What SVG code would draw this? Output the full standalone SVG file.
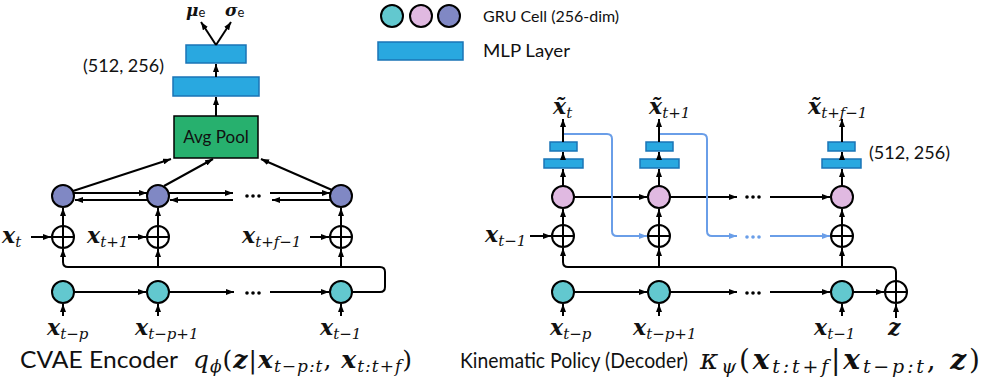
<svg xmlns="http://www.w3.org/2000/svg" width="989" height="388" viewBox="0 0 989 388">
<defs>
<marker id="ah" markerUnits="userSpaceOnUse" markerWidth="8" markerHeight="6" refX="8" refY="3" orient="auto"><path d="M0,0 L8,3 L0,6 z" fill="#000"/></marker>
<marker id="ahb" markerUnits="userSpaceOnUse" markerWidth="8" markerHeight="6" refX="8" refY="3" orient="auto"><path d="M0,0 L8,3 L0,6 z" fill="#6a9ee8"/></marker>
<style>
.c{stroke:#000;stroke-width:2;fill:none;marker-end:url(#ah)}
.n{stroke:#000;stroke-width:2;fill:none}
.bla{stroke:#6a9ee8;stroke-width:2;fill:none;marker-end:url(#ahb)}
.pu{fill:#8088c4;stroke:#000;stroke-width:2}
.pk{fill:#e0b9e1;stroke:#000;stroke-width:2}
.cy{fill:#62c8cf;stroke:#000;stroke-width:2}
.pl{fill:#fff;stroke:#000;stroke-width:2}
.mlp{fill:#29a8e0;stroke:#1a74b6;stroke-width:1.5}
.s{font-family:Lato,"Liberation Sans",sans-serif;fill:#111}
.m{font-family:"DejaVu Serif",serif;font-style:italic;fill:#111}
.b{font-weight:bold}
.u{font-style:normal}
.dt{fill:#000}
.dtb{fill:#6a9ee8}
</style>
</defs>

<!-- Legend -->
<g id="legend">
<circle class="cy" cx="392" cy="16" r="11"/>
<circle class="pk" cx="421" cy="16" r="11"/>
<circle class="pu" cx="449" cy="16" r="11"/>
<text class="s" x="483" y="22" font-size="16">GRU Cell (256-dim)</text>
<rect class="mlp" x="378" y="42" width="85" height="18"/>
<text class="s" x="483" y="57" font-size="17" textLength="87" lengthAdjust="spacingAndGlyphs">MLP Layer</text>
</g>

<!-- Encoder nodes -->
<g id="enc-mlp2"><rect class="mlp" x="186" y="45" width="60" height="18"/></g>
<g id="enc-mlp1"><rect class="mlp" x="173" y="77" width="86" height="19"/></g>
<g id="enc-pool"><rect x="174" y="116" width="84" height="42" fill="#27b06e" stroke="#000" stroke-width="1.5"/><text class="s" x="216" y="143" font-size="17" text-anchor="middle" fill="#1b2b22">Avg Pool</text></g>
<g id="enc-out"><text class="m b" x="186" y="16" font-size="17">μ<tspan class="s u" font-weight="normal" font-size="13" dy="1">e</tspan></text><text class="m b" x="225" y="16" font-size="17">σ<tspan class="s u" font-weight="normal" font-size="13" dy="1">e</tspan></text></g>
<g id="enc-dim"><text class="s" x="83" y="72" font-size="18">(512, 256)</text></g>

<g id="enc-h1"><circle class="pu" cx="63" cy="196" r="11"/></g>
<g id="enc-h2"><circle class="pu" cx="158" cy="196" r="11"/></g>
<g id="enc-h3"><circle class="pu" cx="341" cy="196" r="11"/></g>
<g id="enc-p1"><circle class="pl" cx="63" cy="237" r="11"/><path class="n" d="M52,237H74M63,226V248"/></g>
<g id="enc-p2"><circle class="pl" cx="158" cy="237" r="11"/><path class="n" d="M147,237H169M158,226V248"/></g>
<g id="enc-p3"><circle class="pl" cx="341" cy="237" r="11"/><path class="n" d="M330,237H352M341,226V248"/></g>
<g id="enc-c1"><circle class="cy" cx="63" cy="292" r="11"/></g>
<g id="enc-c2"><circle class="cy" cx="158" cy="292" r="11"/></g>
<g id="enc-c3"><circle class="cy" cx="341" cy="292" r="11"/></g>

<!-- Encoder labels -->
<g id="enc-labels">
<text class="m" x="2" y="243" font-size="22"><tspan class="b">x</tspan><tspan font-size="15" dy="4">t</tspan></text>
<text class="m" x="87" y="243" font-size="22"><tspan class="b">x</tspan><tspan font-size="15" dy="4">t+1</tspan></text>
<text class="m" x="242" y="243" font-size="22"><tspan class="b">x</tspan><tspan font-size="15" dy="4">t+f−1</tspan></text>
<text class="m" x="47" y="335" font-size="22"><tspan class="b">x</tspan><tspan font-size="15" dy="4">t−p</tspan></text>
<text class="m" x="135" y="335" font-size="22"><tspan class="b">x</tspan><tspan font-size="15" dy="4">t−p+1</tspan></text>
<text class="m" x="320" y="335" font-size="22"><tspan class="b">x</tspan><tspan font-size="15" dy="4">t−1</tspan></text>
</g>

<!-- Decoder nodes -->
<g id="dec-h1"><circle class="pk" cx="563" cy="197" r="11"/></g>
<g id="dec-h2"><circle class="pk" cx="659" cy="197" r="11"/></g>
<g id="dec-h3"><circle class="pk" cx="842" cy="197" r="11"/></g>
<g id="dec-p1"><circle class="pl" cx="563" cy="236" r="11"/><path class="n" d="M552,236H574M563,225V247"/></g>
<g id="dec-p2"><circle class="pl" cx="659" cy="236" r="11"/><path class="n" d="M648,236H670M659,225V247"/></g>
<g id="dec-p3"><circle class="pl" cx="842" cy="236" r="11"/><path class="n" d="M831,236H853M842,225V247"/></g>
<g id="dec-c1"><circle class="cy" cx="563" cy="292" r="11"/></g>
<g id="dec-c2"><circle class="cy" cx="659" cy="292" r="11"/></g>
<g id="dec-c3"><circle class="cy" cx="842" cy="292" r="11"/></g>
<g id="dec-pz"><circle class="pl" cx="896" cy="292" r="11"/><path class="n" d="M885,292H907M896,281V303"/></g>
<g id="dec-m1"><rect class="mlp" x="544" y="159" width="39" height="9"/><rect class="mlp" x="550" y="142" width="27" height="9"/></g>
<g id="dec-m2"><rect class="mlp" x="640" y="159" width="39" height="9"/><rect class="mlp" x="646" y="142" width="27" height="9"/></g>
<g id="dec-m3"><rect class="mlp" x="822" y="159" width="39" height="9"/><rect class="mlp" x="828" y="142" width="27" height="9"/></g>
<g id="dec-dim"><text class="s" x="869" y="159" font-size="18">(512, 256)</text></g>

<g id="dec-labels">
<text class="m" x="553" y="114" font-size="22"><tspan class="b">x̃</tspan><tspan font-size="15" dy="4">t</tspan></text>
<text class="m" x="649" y="114" font-size="22"><tspan class="b">x̃</tspan><tspan font-size="15" dy="4">t+1</tspan></text>
<text class="m" x="808" y="114" font-size="22"><tspan class="b">x̃</tspan><tspan font-size="15" dy="4">t+f−1</tspan></text>
<text class="m" x="485" y="242" font-size="22"><tspan class="b">x</tspan><tspan font-size="15" dy="4">t−1</tspan></text>
<text class="m" x="550" y="335" font-size="22"><tspan class="b">x</tspan><tspan font-size="15" dy="4">t−p</tspan></text>
<text class="m" x="633" y="335" font-size="22"><tspan class="b">x</tspan><tspan font-size="15" dy="4">t−p+1</tspan></text>
<text class="m" x="814" y="335" font-size="22"><tspan class="b">x</tspan><tspan font-size="15" dy="4">t−1</tspan></text>
<text class="m b" x="888" y="335" font-size="22">z</text>
</g>

<!-- Titles -->
<g id="titles">
<text class="s" x="20" y="368" font-size="23" textLength="158" lengthAdjust="spacingAndGlyphs">CVAE Encoder</text>
<text class="m" x="193" y="368" font-size="25" textLength="219" lengthAdjust="spacing">q<tspan font-size="17" dy="4">ϕ</tspan><tspan class="u" dy="-4">(</tspan><tspan class="b">z</tspan><tspan class="u">|</tspan><tspan class="b">x</tspan><tspan font-size="17" dy="4">t−p:t</tspan><tspan class="u" dy="-4">, </tspan><tspan class="b">x</tspan><tspan font-size="17" dy="4">t:t+f</tspan><tspan class="u" dy="-4">)</tspan></text>
<text class="s" x="460" y="368" font-size="20.5" textLength="228" lengthAdjust="spacingAndGlyphs">Kinematic Policy (Decoder)</text>
<text class="m" x="700" y="369" font-size="28" textLength="280" lengthAdjust="spacing">κ<tspan font-size="19" dy="4">ψ</tspan><tspan class="u" dy="-4">(</tspan><tspan class="b">x</tspan><tspan font-size="19" dy="4">t:t+f</tspan><tspan class="u" dy="-4">|</tspan><tspan class="b">x</tspan><tspan font-size="19" dy="4">t−p:t</tspan><tspan class="u" dy="-4">, </tspan><tspan class="b">z</tspan><tspan class="u">)</tspan></text>
</g>

<!-- Connectors -->
<g id="connectors">
<path class="c" d="M216,45L201,22"/>
<path class="c" d="M216,45L231,22"/>
<path class="c" d="M216,77V64"/>
<path class="c" d="M216,116V97"/>
<path class="c" d="M73,191L171,159"/>
<path class="c" d="M164,186L213,159"/>
<path class="c" d="M332,190L261,159"/>
<path class="c" d="M74,193H147"/>
<path class="c" d="M147,200H75"/>
<path class="c" d="M169,193H233"/>
<path class="c" d="M233,200H170"/>
<path class="c" d="M270,193H330"/>
<path class="c" d="M330,200H272"/>
<circle class="dt" cx="247" cy="196" r="1.8"/><circle class="dt" cx="253" cy="196" r="1.8"/><circle class="dt" cx="259" cy="196" r="1.8"/>
<path class="c" d="M63,226V208"/>
<path class="c" d="M158,226V208"/>
<path class="c" d="M341,226V208"/>
<path class="c" d="M31,237H51"/>
<path class="c" d="M128,237H146"/>
<path class="c" d="M310,237H329"/>
<path class="c" d="M352,292H380Q385,292 385,287V272Q385,267 380,267H68Q63,267 63,262V249"/>
<path class="c" d="M158,267V249"/>
<path class="c" d="M341,267V249"/>
<path class="c" d="M74,292H146"/>
<path class="c" d="M169,292H234"/>
<circle class="dt" cx="247" cy="293" r="1.8"/><circle class="dt" cx="253" cy="293" r="1.8"/><circle class="dt" cx="259" cy="293" r="1.8"/>
<path class="c" d="M270,292H329"/>
<path class="c" d="M63,316V304"/>
<path class="c" d="M158,316V304"/>
<path class="c" d="M341,316V304"/>
<path class="c" d="M563,186V169"/>
<path class="c" d="M659,186V169"/>
<path class="c" d="M842,186V169"/>
<path class="c" d="M563,159V152"/>
<path class="c" d="M659,159V152"/>
<path class="c" d="M842,159V152"/>
<path class="c" d="M563,142V119"/>
<path class="c" d="M659,142V119"/>
<path class="c" d="M842,142V119"/>
<path class="c" d="M563,225V209"/>
<path class="c" d="M659,225V209"/>
<path class="c" d="M842,225V209"/>
<path class="c" d="M574,197H647"/>
<path class="c" d="M670,197H737"/>
<circle class="dt" cx="747" cy="197" r="1.8"/><circle class="dt" cx="753" cy="197" r="1.8"/><circle class="dt" cx="759" cy="197" r="1.8"/>
<path class="c" d="M770,197H830"/>
<path class="bla" d="M564,134H607Q612,134 612,139V231Q612,236 617,236H647"/>
<path class="bla" d="M660,134H702Q707,134 707,139V231Q707,236 712,236H737"/>
<circle class="dtb" cx="747" cy="237" r="1.8"/><circle class="dtb" cx="753" cy="237" r="1.8"/><circle class="dtb" cx="759" cy="237" r="1.8"/>
<path class="bla" d="M770,236H830"/>
<path class="c" d="M530,236H551"/>
<path class="c" d="M896,281V272Q896,267 891,267H568Q563,267 563,262V248"/>
<path class="c" d="M659,267V248"/>
<path class="c" d="M842,267V248"/>
<path class="c" d="M574,292H647"/>
<path class="c" d="M670,292H737"/>
<circle class="dt" cx="747" cy="293" r="1.8"/><circle class="dt" cx="753" cy="293" r="1.8"/><circle class="dt" cx="759" cy="293" r="1.8"/>
<path class="c" d="M770,292H830"/>
<path class="c" d="M853,292H884"/>
<path class="c" d="M563,316V304"/>
<path class="c" d="M659,316V304"/>
<path class="c" d="M842,316V304"/>
<path class="c" d="M896,318V304"/>
</g>
</svg>
